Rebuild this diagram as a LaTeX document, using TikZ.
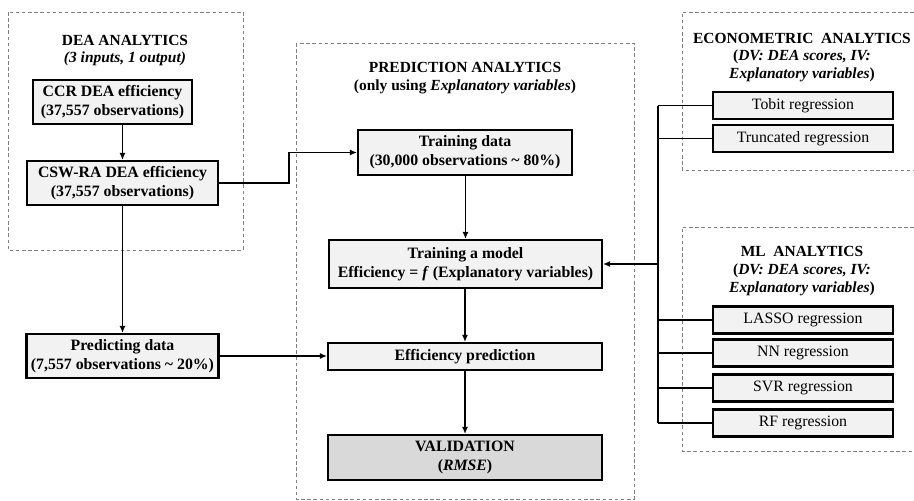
\documentclass[tikz,border=0pt]{standalone}
\usepackage{fontspec}
\setmainfont{Liberation Serif}
\usetikzlibrary{arrows.meta}

\begin{document}
\begin{tikzpicture}[x=0.02cm, y=-0.02cm]
    \tikzset{
        frame/.style={gray, line width=0.5pt, dash pattern=on 2pt off 1.5pt},
        title/.style={align=center, font=\fontsize{8.8}{10.2}\selectfont\bfseries},
        stage/.style={draw, line width=1.2pt, fill=gray!10, align=center, inner sep=1pt,
            font=\fontsize{9}{11}\selectfont\bfseries},
        method/.style={draw, line width=1.2pt, fill=gray!10, minimum width=3.6cm, minimum height=0.54cm,
            inner sep=1pt, font=\fontsize{9}{11}\selectfont},
        conn/.style={line width=1.1pt, -{Latex[length=4pt,width=3.5pt]}},
        wire/.style={line width=1.1pt}
    }
    \useasboundingbox (0,0) rectangle (914,501);

    %% dashed groups
    \draw[frame] (8,12) rectangle (243,250);
    \draw[frame] (296,43) rectangle (634,499);
    \draw[frame] (914,12) -- (682,12) -- (682,170) -- (914,170);
    \draw[frame] (914,227) -- (682,227) -- (682,451) -- (914,451);

    %% group titles
    \node[title] (deatitle) at (125,50.5) {DEA ANALYTICS\\ \textit{(3 inputs, 1 output)}};
    \node[title] (predtitle) at (465,78.5) {PREDICTION ANALYTICS\\ (only using \textit{Explanatory variables})};
    \node[title] (ecotitle) at (802,57.5) {ECONOMETRIC\ \ ANALYTICS\\ (\textit{DV: DEA scores, IV:}\\ \textit{Explanatory variables})};
    \node[title] (mltitle) at (802,271) {ML\ \ ANALYTICS\\ (\textit{DV: DEA scores, IV:}\\ \textit{Explanatory variables})};

    %% DEA side
    \node[stage, minimum width=3.18cm, minimum height=0.88cm] (ccr) at (112.5,102) {CCR DEA efficiency\\ (37,557 observations)};
    \node[stage, minimum width=3.82cm, minimum height=0.88cm] (csw) at (122.5,183) {CSW-RA DEA efficiency\\ (37,557 observations)};
    \node[stage, minimum width=3.84cm, minimum height=0.88cm] (pdata) at (122.5,356) {Predicting data\\ (7,557 observations \textasciitilde\ 20\%)};

    %% prediction column
    \node[stage, minimum width=4.28cm, minimum height=0.9cm] (tdata) at (465,152.5) {Training data\\ (30,000 observations \textasciitilde\ 80\%)};
    \node[stage, minimum width=5.46cm, minimum height=0.96cm] (model) at (465.5,264) {Training a model\\ Efficiency = \textit{f} (Explanatory variables)};
    \node[stage, minimum width=5.48cm, minimum height=0.54cm] (effpred) at (465,356.5) {Efficiency prediction};
    \node[stage, fill=gray!30, minimum width=5.48cm, minimum height=0.9cm] (valid) at (465,457.5) {VALIDATION\\ (\textit{RMSE})};

    %% regression methods
    \foreach \name/\ypos/\txt in {tobit/105.5/Tobit regression, trunc/138.5/Truncated regression,
            lasso/320/LASSO regression, nn/353/NN regression, svr/388/SVR regression, rf/423/RF regression} {
        \node[method] (\name) at (803,\ypos) {\txt};
    }

    %% connectors
    \draw[conn] (csw.north |- ccr.south) -- (csw.north);
    \draw[conn] (csw.south) -- (pdata.north);
    \draw[conn] (csw.east) -- ++(70,0) |- (tdata.west);
    \draw[conn] (pdata.east) -- (pdata.east -| effpred.west);
    \draw[conn] (tdata.south -| model.north) -- (model.north);
    \draw[conn] (effpred.north |- model.south) -- (effpred.north);
    \draw[conn] (effpred.south) -- (valid.north);

    \coordinate (bus) at (658,0);
    \foreach \name in {tobit, trunc, lasso, nn, svr, rf}
        \draw[wire] (\name.west) -- (\name.west -| bus);
    \draw[wire] (bus |- tobit.west) -- (bus |- rf.west);
    \draw[conn] (bus |- model.east) -- (model.east);
\end{tikzpicture}
\end{document}
